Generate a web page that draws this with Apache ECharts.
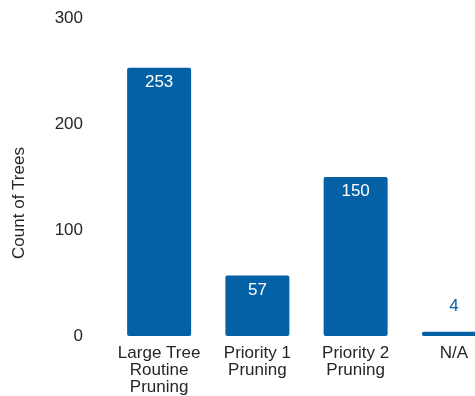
<!DOCTYPE html>
<html>
<head>
<meta charset="utf-8">
<script src="https://cdn.jsdelivr.net/npm/echarts@6/dist/echarts.min.js"></script>
<style>
  html, body { margin: 0; padding: 0; background: #fff; overflow: hidden; }
  #chart { width: 475px; height: 396px; }
</style>
</head>
<body>
<div id="chart"></div>
<script>
const categories = ["Large Tree\nRoutine\nPruning", "Priority 1\nPruning", "Priority 2\nPruning", "N/A"];
const counts = [253, 57, 150, 4];
const yTicks = [0, 100, 200, 300];

const blue = "#0561A6";
const font = "Liberation Sans, Arial, sans-serif";

const seriesData = counts.map((v) => {
  const small = v < 20;
  return {
    value: v,
    label: {
      position: small ? "top" : "insideTop",
      distance: small ? 17 : 6,
      color: small ? blue : "#ffffff",
    },
  };
});

const option = {
  animation: false,
  grid: {
    left: 110,
    width: 393,
    top: 18,
    bottom: 60,
    outerBoundsMode: "none",
    containLabel: false,
  },
  xAxis: {
    type: "category",
    data: categories,
    axisLine: { show: false },
    axisTick: { show: false },
    axisLabel: {
      color: "#262626",
      fontSize: 17,
      fontFamily: font,
      lineHeight: 17,
      margin: 9,
      interval: 0,
    },
  },
  yAxis: {
    type: "value",
    min: yTicks[0],
    max: yTicks[yTicks.length - 1],
    interval: 100,
    splitLine: { show: false },
    axisLine: { show: false },
    axisTick: { show: false },
    axisLabel: {
      color: "#262626",
      fontSize: 17,
      fontFamily: font,
      margin: 27,
    },
    name: "Count of Trees",
    nameLocation: "middle",
    nameGap: 82,
    nameTextStyle: {
      color: "#262626",
      fontSize: 17,
      fontFamily: font,
      padding: [0, 52, 0, 0],
    },
  },
  series: [
    {
      type: "bar",
      data: seriesData,
      barWidth: 64,
      itemStyle: {
        color: blue,
        borderRadius: 2,
      },
      label: {
        show: true,
        fontSize: 17,
        fontFamily: font,
      },
    },
  ],
};

const myChart = echarts.init(document.getElementById("chart"));
myChart.setOption(option);
</script>
</body>
</html>
